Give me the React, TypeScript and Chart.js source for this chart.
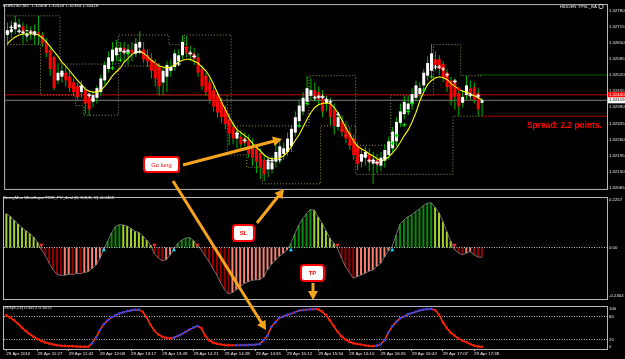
import React, { useEffect, useRef } from "react";
import { Chart, registerables } from "chart.js";

Chart.register(...registerables);

// ---------------- DATA ----------------
const timeLabels = [
  "29 Apr 2010", "29 Apr 11:27", "29 Apr 11:42", "29 Apr 12:08", "29 Apr 13:17", "29 Apr 13:49",
  "29 Apr 14:21", "29 Apr 14:28", "29 Apr 14:55", "29 Apr 15:12", "29 Apr 15:54", "29 Apr 16:10",
  "29 Apr 16:26", "29 Apr 16:42", "29 Apr 17:07", "29 Apr 17:38",
];
const labelBars = [0, 8, 16, 24, 32, 40, 48, 56, 64, 72, 80, 88, 96, 104, 112, 120];

const open = [
  1.32681, 1.32692, 1.32704, 1.32712, 1.32716, 1.32696, 1.32700, 1.32688, 1.32692, 1.32681,
  1.32653, 1.32622, 1.32583, 1.32498, 1.32513, 1.32529, 1.32513, 1.32490, 1.32474, 1.32451,
  1.32459, 1.32432, 1.32412, 1.32428, 1.32451, 1.32498, 1.32544, 1.32575, 1.32599, 1.32614,
  1.32630, 1.32607, 1.32622, 1.32607, 1.32630, 1.32622, 1.32599, 1.32583, 1.32560, 1.32552,
  1.32490, 1.32513, 1.32537, 1.32552, 1.32575, 1.32599, 1.32630, 1.32614, 1.32607, 1.32591,
  1.32544, 1.32513, 1.32490, 1.32459, 1.32436, 1.32412, 1.32381, 1.32342, 1.32311, 1.32264,
  1.32272, 1.32264, 1.32257, 1.32233, 1.32225, 1.32206, 1.32179, 1.32140, 1.32140, 1.32171,
  1.32187, 1.32202, 1.32210, 1.32233, 1.32288, 1.32334, 1.32373, 1.32412, 1.32436, 1.32459,
  1.32451, 1.32436, 1.32405, 1.32412, 1.32381, 1.32311, 1.32334, 1.32311, 1.32288, 1.32264,
  1.32233, 1.32171, 1.32187, 1.32202, 1.32163, 1.32179, 1.32155, 1.32175, 1.32198, 1.32225,
  1.32253, 1.32327, 1.32362, 1.32381, 1.32405, 1.32428, 1.32443, 1.32478, 1.32517, 1.32537,
  1.32583, 1.32583, 1.32564, 1.32529, 1.32498, 1.32490, 1.32447, 1.32408, 1.32439, 1.32467,
  1.32471, 1.32447, 1.32408,
];
const close = [
  1.32700, 1.32704, 1.32731, 1.32723, 1.32696, 1.32700, 1.32688, 1.32696, 1.32681, 1.32646,
  1.32607, 1.32544, 1.32467, 1.32529, 1.32537, 1.32498, 1.32467, 1.32451, 1.32432, 1.32474,
  1.32405, 1.32381, 1.32439, 1.32467, 1.32506, 1.32560, 1.32591, 1.32622, 1.32630, 1.32630,
  1.32607, 1.32622, 1.32607, 1.32646, 1.32653, 1.32583, 1.32575, 1.32537, 1.32506, 1.32474,
  1.32537, 1.32560, 1.32552, 1.32607, 1.32599, 1.32653, 1.32607, 1.32599, 1.32583, 1.32529,
  1.32474, 1.32451, 1.32420, 1.32393, 1.32369, 1.32350, 1.32323, 1.32284, 1.32264, 1.32288,
  1.32241, 1.32245, 1.32202, 1.32187, 1.32171, 1.32148, 1.32120, 1.32171, 1.32167, 1.32210,
  1.32233, 1.32225, 1.32264, 1.32303, 1.32350, 1.32397, 1.32428, 1.32467, 1.32459, 1.32432,
  1.32420, 1.32373, 1.32420, 1.32350, 1.32315, 1.32350, 1.32292, 1.32264, 1.32237, 1.32198,
  1.32163, 1.32202, 1.32210, 1.32171, 1.32179, 1.32159, 1.32187, 1.32218, 1.32253, 1.32292,
  1.32331, 1.32373, 1.32412, 1.32405, 1.32443, 1.32478, 1.32467, 1.32529, 1.32568, 1.32607,
  1.32560, 1.32544, 1.32509, 1.32471, 1.32420, 1.32432, 1.32393, 1.32432, 1.32478, 1.32439,
  1.32420, 1.32381, 1.32418,
];
const high = [
  1.32731, 1.32739, 1.32758, 1.32747, 1.32731, 1.32723, 1.32716, 1.32723, 1.32758, 1.32692,
  1.32669, 1.32634, 1.32595, 1.32568, 1.32560, 1.32552, 1.32537, 1.32506, 1.32490, 1.32498,
  1.32474, 1.32443, 1.32451, 1.32478, 1.32521, 1.32575, 1.32614, 1.32653, 1.32661, 1.32653,
  1.32653, 1.32646, 1.32653, 1.32669, 1.32696, 1.32653, 1.32622, 1.32607, 1.32583, 1.32568,
  1.32552, 1.32575, 1.32583, 1.32622, 1.32622, 1.32681, 1.32677, 1.32638, 1.32630, 1.32607,
  1.32560, 1.32529, 1.32506, 1.32474, 1.32451, 1.32428, 1.32397, 1.32366, 1.32334, 1.32311,
  1.32296, 1.32288, 1.32280, 1.32264, 1.32241, 1.32225, 1.32202, 1.32187, 1.32194, 1.32241,
  1.32264, 1.32249, 1.32288, 1.32319, 1.32373, 1.32420, 1.32451, 1.32517, 1.32506, 1.32490,
  1.32474, 1.32459, 1.32436, 1.32428, 1.32405, 1.32373, 1.32358, 1.32334, 1.32311, 1.32280,
  1.32249, 1.32225, 1.32233, 1.32225, 1.32210, 1.32202, 1.32210, 1.32241, 1.32272, 1.32311,
  1.32350, 1.32405, 1.32436, 1.32436, 1.32467, 1.32498, 1.32490, 1.32544, 1.32595, 1.32646,
  1.32614, 1.32599, 1.32575, 1.32544, 1.32513, 1.32506, 1.32467, 1.32459, 1.32517, 1.32498,
  1.32490, 1.32467, 1.32424,
];
const low = [
  1.32638, 1.32669, 1.32685, 1.32692, 1.32646, 1.32653, 1.32661, 1.32642, 1.32642, 1.32634,
  1.32591, 1.32517, 1.32459, 1.32482, 1.32490, 1.32474, 1.32451, 1.32436, 1.32420, 1.32428,
  1.32362, 1.32354, 1.32389, 1.32405, 1.32436, 1.32482, 1.32529, 1.32560, 1.32575, 1.32583,
  1.32568, 1.32560, 1.32575, 1.32591, 1.32607, 1.32568, 1.32552, 1.32506, 1.32474, 1.32439,
  1.32439, 1.32451, 1.32513, 1.32537, 1.32560, 1.32583, 1.32591, 1.32575, 1.32560, 1.32513,
  1.32459, 1.32436, 1.32405, 1.32373, 1.32350, 1.32327, 1.32303, 1.32237, 1.32241, 1.32225,
  1.32225, 1.32233, 1.32187, 1.32155, 1.32124, 1.32101, 1.32093, 1.32109, 1.32124, 1.32148,
  1.32163, 1.32179, 1.32194, 1.32210, 1.32272, 1.32319, 1.32358, 1.32397, 1.32420, 1.32412,
  1.32397, 1.32350, 1.32373, 1.32319, 1.32280, 1.32296, 1.32272, 1.32245, 1.32218, 1.32179,
  1.32136, 1.32148, 1.32155, 1.32132, 1.32082, 1.32124, 1.32132, 1.32148, 1.32179, 1.32210,
  1.32233, 1.32311, 1.32342, 1.32358, 1.32381, 1.32412, 1.32428, 1.32459, 1.32498, 1.32521,
  1.32537, 1.32521, 1.32490, 1.32451, 1.32397, 1.32381, 1.32354, 1.32389, 1.32420, 1.32420,
  1.32405, 1.32354, 1.32354,
];
const maLine = [
  1.32646, 1.32661, 1.32673, 1.32681, 1.32685, 1.32685, 1.32685, 1.32685, 1.32681, 1.32669,
  1.32653, 1.32634, 1.32614, 1.32595, 1.32572, 1.32556, 1.32537, 1.32517, 1.32498, 1.32482,
  1.32463, 1.32455, 1.32451, 1.32451, 1.32459, 1.32474, 1.32494, 1.32517, 1.32533, 1.32548,
  1.32572, 1.32587, 1.32603, 1.32611, 1.32614, 1.32607, 1.32595, 1.32579, 1.32568, 1.32556,
  1.32552, 1.32548, 1.32552, 1.32560, 1.32572, 1.32579, 1.32583, 1.32583, 1.32575, 1.32568,
  1.32552, 1.32537, 1.32513, 1.32482, 1.32447, 1.32412, 1.32381, 1.32350, 1.32323, 1.32299,
  1.32288, 1.32276, 1.32264, 1.32245, 1.32229, 1.32214, 1.32198, 1.32187, 1.32183, 1.32183,
  1.32187, 1.32194, 1.32210, 1.32233, 1.32257, 1.32280, 1.32311, 1.32342, 1.32369, 1.32389,
  1.32401, 1.32405, 1.32408, 1.32405, 1.32389, 1.32366, 1.32338, 1.32307, 1.32280, 1.32253,
  1.32233, 1.32222, 1.32214, 1.32202, 1.32194, 1.32183, 1.32175, 1.32179, 1.32190, 1.32206,
  1.32225, 1.32249, 1.32276, 1.32299, 1.32331, 1.32369, 1.32416, 1.32451, 1.32482, 1.32498,
  1.32509, 1.32513, 1.32509, 1.32502, 1.32486, 1.32474, 1.32463, 1.32455, 1.32451, 1.32443,
  1.32436, 1.32428, 1.32420,
];
const channelUpper = [
  1.32758, 1.32758, 1.32758, 1.32758, 1.32758, 1.32758, 1.32758, 1.32758, 1.32758, 1.32758, 1.32758, 1.32758, 1.32758, 1.32758,
  1.32564, 1.32564, 1.32564, 1.32564, 1.32564, 1.32564, 1.32564, 1.32564, 1.32564, 1.32564, 1.32564, 1.32564, 1.32564, 1.32564, 1.32564,
  1.32681, 1.32681, 1.32681, 1.32681, 1.32681, 1.32681, 1.32681, 1.32681, 1.32681, 1.32681, 1.32681, 1.32681, 1.32681,
  1.32642, 1.32642, 1.32642, 1.32642,
  1.32681, 1.32681, 1.32681, 1.32681, 1.32681, 1.32681, 1.32681, 1.32681, 1.32681, 1.32681, 1.32681, 1.32681,
  1.32315, 1.32315, 1.32315, 1.32315, 1.32315, 1.32315, 1.32315, 1.32315, 1.32315, 1.32315,
  1.32315, 1.32315, 1.32315, 1.32315, 1.32315, 1.32315, 1.32315, 1.32315, 1.32315, 1.32315,
  1.32517, 1.32517, 1.32517, 1.32517, 1.32517, 1.32517, 1.32517, 1.32517, 1.32517, 1.32517, 1.32517, 1.32517,
  1.32237, 1.32237, 1.32237, 1.32237, 1.32237, 1.32237, 1.32237, 1.32237, 1.32237,
  1.32439, 1.32439, 1.32439, 1.32439, 1.32439, 1.32439, 1.32439, 1.32439, 1.32439, 1.32439, 1.32439,
  1.32642, 1.32642, 1.32642, 1.32642, 1.32642, 1.32642, 1.32642,
  1.32517, 1.32517, 1.32517, 1.32517, 1.32517, 1.32517,
];
const channelLower = [
  1.32642, 1.32642, 1.32642, 1.32642, 1.32642, 1.32642, 1.32642, 1.32642, 1.32642,
  1.32439, 1.32439, 1.32439, 1.32439, 1.32439, 1.32439, 1.32439, 1.32439, 1.32439,
  1.32397, 1.32397,
  1.32358, 1.32358, 1.32358, 1.32358, 1.32358, 1.32358, 1.32358, 1.32358, 1.32358,
  1.32556, 1.32556, 1.32556, 1.32556, 1.32556, 1.32556, 1.32556, 1.32556, 1.32556, 1.32556,
  1.32439, 1.32439, 1.32439, 1.32439, 1.32439, 1.32439, 1.32439, 1.32439, 1.32439,
  1.32439, 1.32439, 1.32439, 1.32439, 1.32439, 1.32439, 1.32439, 1.32439, 1.32439,
  1.32198, 1.32198, 1.32198, 1.32198, 1.32198,
  1.32148, 1.32148, 1.32148, 1.32148,
  1.32082, 1.32082, 1.32082, 1.32082, 1.32082, 1.32082, 1.32082, 1.32082, 1.32082, 1.32082, 1.32082, 1.32082, 1.32082, 1.32082, 1.32082,
  1.32315, 1.32315, 1.32315, 1.32315, 1.32315, 1.32315, 1.32315, 1.32315, 1.32315,
  1.32120, 1.32120, 1.32120, 1.32120, 1.32120, 1.32120, 1.32120, 1.32120, 1.32120, 1.32120,
  1.32120, 1.32120, 1.32120, 1.32120, 1.32120, 1.32120, 1.32120, 1.32120, 1.32120, 1.32120,
  1.32120, 1.32120, 1.32120, 1.32120, 1.32120,
  1.32354, 1.32354, 1.32354, 1.32354, 1.32354, 1.32354, 1.32354, 1.32354,
];
const whiteCrossBars = [0, 1, 3, 4, 5, 6, 7, 14, 19, 21, 22, 30, 33, 34, 42, 44, 47, 48, 59, 61, 67, 68, 70, 79, 80, 81, 82, 83, 85, 91, 92, 93, 94, 95, 96, 97, 110, 111, 112, 113, 115, 119, 121];
const whiteCrossPrices = [
  1.32692, 1.32712, 1.32696, 1.32692, 1.32681, 1.32692, 1.32685, 1.32525, 1.32474, 1.32439,
  1.32420, 1.32614, 1.32611, 1.32614, 1.32544, 1.32564, 1.32607, 1.32595, 1.32284, 1.32257,
  1.32175, 1.32175, 1.32179, 1.32428, 1.32432, 1.32432, 1.32420, 1.32412, 1.32362, 1.32194,
  1.32194, 1.32175, 1.32175, 1.32167, 1.32175, 1.32187, 1.32552, 1.32552, 1.32544, 1.32521,
  1.32494, 1.32439, 1.32436,
];
const greenCrossBars = [27, 29, 31, 75, 77, 99, 100, 102, 103, 104, 107, 109];
const greenCrossPrices = [1.32548, 1.32579, 1.32607, 1.32315, 1.32405, 1.32245, 1.32276, 1.32319, 1.32373, 1.32405, 1.32459, 1.32513];
const redCrossBars = [12, 38, 39, 46, 51, 52, 53, 54, 56, 57, 86, 87, 88, 90, 116];
const redCrossPrices = [1.32587, 1.32564, 1.32544, 1.32630, 1.32513, 1.32467, 1.32439, 1.32397, 1.32358, 1.32323, 1.32296, 1.32276, 1.32241, 1.32218, 1.32463];

const askPrice = 1.3244;
const lastPrice = 1.32418;
const tpPrice = 1.3252;
const slPrice = 1.32354;
const tpStartBar = 121;
const slStartBar = 122;
const mainTicks = [1.3278, 1.32715, 1.3265, 1.32585, 1.3252, 1.32455, 1.3239, 1.32325, 1.3226, 1.32195, 1.3213, 1.32065];

const trixHist = [
  0.16, 0.148, 0.13, 0.112, 0.094, 0.08, 0.066, 0.05, 0.025, -0.01,
  -0.038, -0.074, -0.105, -0.127, -0.132, -0.131, -0.127, -0.128, -0.123, -0.124,
  -0.118, -0.114, -0.1, -0.083, -0.051, -0.011, 0.03, 0.07, 0.1, 0.108,
  0.107, 0.102, 0.09, 0.077, 0.071, 0.055, 0.035, 0.012, -0.03, -0.05,
  -0.063, -0.058, -0.036, -0.008, 0.02, 0.035, 0.045, 0.047, 0.033, 0.01,
  -0.01, -0.04, -0.066, -0.1, -0.13, -0.168, -0.2, -0.22, -0.213, -0.2,
  -0.185, -0.17, -0.162, -0.155, -0.153, -0.152, -0.14, -0.105, -0.08, -0.06,
  -0.042, -0.028, -0.012, 0.02, 0.065, 0.105, 0.135, 0.16, 0.18, 0.177,
  0.145, 0.115, 0.08, 0.045, 0.02, -0.005, -0.05, -0.09, -0.118, -0.145,
  -0.138, -0.13, -0.122, -0.112, -0.107, -0.09, -0.075, -0.045, -0.015, 0.005,
  0.06, 0.11, 0.13, 0.145, 0.155, 0.17, 0.183, 0.198, 0.21, 0.212,
  0.19, 0.165, 0.123, 0.075, 0.03, -0.01, -0.025, -0.034, -0.026, -0.02,
  -0.034, -0.045, -0.0465,
];
const trixUpArrowBars = [25, 43, 73, 99];
const trixDownArrowBars = [9, 38, 49, 85, 115];
const trixTicks = [0.2257, 0, -0.2304];

const dssValues = [
  83, 77, 70, 61, 51, 42, 34, 27, 21, 16,
  12, 9.5, 7, 5, 3.5, 2.8, 2.4, 2, 1.6, 1.2,
  1, 0.8, 10, 25, 45, 60, 70, 78, 83, 88,
  91, 94, 96, 97.5, 98, 92, 78, 58, 43, 33,
  27, 24, 23, 25, 29, 34, 40, 46, 51, 55,
  50, 30, 18, 12, 9, 7, 5.5, 4.8, 4.6, 4.7,
  4.9, 5, 5.5, 6, 6.5, 8, 18, 30, 53, 65,
  76, 80, 84, 87, 91, 95, 97, 98, 99, 99.5,
  99, 93, 84, 70, 55, 40, 28, 20, 14, 10,
  8, 6.5, 4.5, 3, 2.4, 3.5, 7, 18, 38, 54,
  66, 75, 80, 86, 89, 92, 96, 98, 99.5, 100,
  97, 85, 65, 50, 38, 30, 22, 17, 13, 8,
  4, 1.5, 0.8,
];
const dssLevels = [80, 20];
const dssTicks = [100, 80, 20, 0];

const mainTitle = "EURUSD,M2  1.32408 1.32424 1.32354 1.32418";
const eaTitle = "HIDDEN TPSL_EA";
const spreadText = "Spread: 2.2 points.";
const trixTitle = "SwingMan UltraSuperTRIX_PV_4col (6, E,E,E, C) -0.0465";
const dssTitle = "DSS(8,13) 0.3472 0.3472";

// ---------------- CONFIG ----------------
const X_MIN = -0.6;
const X_MAX = 154.1;
const FONT = "Liberation Sans";
const TXT = "#e8e8e8";

const pts = (arr: number[]) => arr.map((v, i) => ({ x: i, y: v }));
const hline = (from: number, v: number) => [{ x: from, y: v }, { x: X_MAX, y: v }];

const xHidden: any = { type: "linear", min: X_MIN, max: X_MAX, display: false, offset: false };

function rightAxis(min: number, max: number, ticks: number[], fmt: (v: number) => string): any {
  return {
    type: "linear",
    position: "right",
    min,
    max,
    grid: { display: false, drawTicks: false },
    border: { display: false },
    afterBuildTicks: (s: any) => {
      s.ticks = ticks.map((v) => ({ value: v }));
    },
    afterFit: (s: any) => {
      s.width = 18;
      s.paddingTop = 0;
      s.paddingBottom = 0;
    },
    ticks: {
      autoSkip: false,
      padding: 2,
      color: TXT,
      font: { family: FONT, size: 4.3 },
      callback: (v: any) => fmt(Number(v)),
    },
  };
}

const framePlugin = {
  id: "frame",
  afterDraw(chart: any) {
    const { ctx, chartArea: a } = chart;
    ctx.save();
    ctx.strokeStyle = "#b8b8b8";
    ctx.lineWidth = 1;
    ctx.strokeRect(a.left - 0.5, a.top - 0.5, a.right - a.left + 1, a.bottom - a.top + 1);
    ctx.restore();
  },
};

function titlePlugin(text: string, y: number) {
  return {
    id: "title_" + y,
    afterDraw(chart: any) {
      const { ctx } = chart;
      ctx.save();
      ctx.font = `4.3px "${FONT}"`;
      ctx.fillStyle = TXT;
      ctx.textBaseline = "middle";
      ctx.textAlign = "left";
      ctx.fillText(text, 3, y);
      ctx.restore();
    },
  };
}

const mainTextPlugin = {
  id: "mainText",
  afterDraw(chart: any) {
    const { ctx, chartArea: a, scales } = chart;
    const y = scales.y;
    ctx.save();
    ctx.textBaseline = "middle";
    ctx.font = `4.4px "${FONT}"`;
    ctx.fillStyle = TXT;
    ctx.textAlign = "left";
    ctx.fillText(mainTitle, 3, 6);
    ctx.textAlign = "right";
    ctx.fillText(eaTitle, 597, 6.5);
    ctx.strokeStyle = TXT;
    ctx.lineWidth = 0.8;
    ctx.beginPath();
    ctx.arc(601, 6.5, 2.2, 0, Math.PI * 2);
    ctx.stroke();

    ctx.font = `bold 8.4px "${FONT}"`;
    ctx.fillStyle = "#ff0000";
    ctx.textAlign = "left";
    ctx.fillText(spreadText, 527, 125.5);

    // price boxes on the axis
    const ya = y.getPixelForValue(askPrice);
    const yl = y.getPixelForValue(lastPrice);
    ctx.font = `4.3px "${FONT}"`;
    ctx.fillStyle = "#ff0000";
    ctx.fillRect(a.right + 1, ya - 3, 17, 6);
    ctx.fillStyle = "#ffffff";
    ctx.fillText(askPrice.toFixed(5), a.right + 2, ya);
    ctx.fillStyle = "#ffffff";
    ctx.fillRect(a.right + 1, yl - 3, 17, 6);
    ctx.fillStyle = "#000000";
    ctx.fillText(lastPrice.toFixed(5), a.right + 2, yl);
    ctx.restore();
  },
};

const baseOptions = (padding: any, scales: any): any => ({
  responsive: false,
  maintainAspectRatio: false,
  animation: false,
  events: [],
  layout: { padding },
  plugins: { legend: { display: false }, tooltip: { enabled: false } },
  scales,
});

function makeMain(canvas: HTMLCanvasElement) {
  const dotted = { type: "line", pointRadius: 0, borderWidth: 1, borderDash: [1, 2] };
  const crosses = (bars: number[], prices: number[], color: string, order: number) => ({
    type: "line",
    showLine: false,
    data: bars.map((b, k) => ({ x: b, y: prices[k] })),
    pointStyle: "cross",
    pointRadius: 2,
    pointBorderWidth: 1.1,
    pointBorderColor: color,
    borderColor: color,
    order,
  });
  return new Chart(canvas, {
    type: "bar",
    data: {
      datasets: [
        { ...dotted, data: pts(channelUpper), borderColor: "#a39455", stepped: "middle", order: 12 },
        { ...dotted, data: pts(channelLower), borderColor: "#a39455", stepped: "middle", order: 12 },
        { type: "line", data: hline(X_MIN, askPrice), borderColor: "#c00000", borderWidth: 1, pointRadius: 0, order: 11 },
        { type: "line", data: hline(X_MIN, lastPrice), borderColor: "#7c7c7c", borderWidth: 1, pointRadius: 0, order: 11 },
        { ...dotted, borderDash: [1, 1], data: hline(tpStartBar, tpPrice), borderColor: "#00a000", order: 10 },
        { ...dotted, borderDash: [1, 1], data: hline(slStartBar, slPrice), borderColor: "#e00000", order: 10 },
        {
          type: "bar",
          data: low.map((l, i) => ({ x: i, y: [l, high[i]] })),
          backgroundColor: "#00b400",
          barThickness: 1,
          grouped: false,
          inflateAmount: 0,
          order: 8,
        },
        {
          type: "bar",
          data: open.map((o, i) => ({ x: i, y: [o, close[i]] })),
          backgroundColor: open.map((o, i) => (close[i] >= o ? "#ffffff" : "#ff0000")),
          barThickness: 3,
          grouped: false,
          inflateAmount: 0,
          order: 7,
        },
        { type: "line", data: pts(maLine), borderColor: "#ffff00", borderWidth: 1.1, pointRadius: 0, order: 5 },
        crosses(whiteCrossBars, whiteCrossPrices, "#ffffff", 4),
        crosses(greenCrossBars, greenCrossPrices, "#00e000", 4),
        crosses(redCrossBars, redCrossPrices, "#ff1010", 4),
      ],
    } as any,
    options: baseOptions(
      { left: 2, top: 2, right: 0, bottom: 2 },
      { x: xHidden, y: rightAxis(1.320614, 1.328012, mainTicks, (v) => v.toFixed(5)) }
    ),
    plugins: [framePlugin, mainTextPlugin],
  } as any);
}

function makeTrix(canvas: HTMLCanvasElement) {
  const colors = trixHist.map((v, i) => {
    const prev = i > 0 ? trixHist[i - 1] : Infinity;
    if (v >= 0) return v > prev ? "#078c07" : "#a3d22c";
    return v < prev ? "#960000" : "#f4826f";
  });
  return new Chart(canvas, {
    type: "bar",
    data: {
      datasets: [
        {
          type: "line",
          data: hline(X_MIN, 0),
          borderColor: "#c8c8c8",
          borderWidth: 1,
          borderDash: [1, 1.5],
          pointRadius: 0,
          order: 3,
        },
        {
          type: "line",
          data: pts(trixHist),
          borderColor: "#8a8a8a",
          borderWidth: 0.8,
          pointRadius: 0,
          order: 4,
        },
        {
          type: "bar",
          data: pts(trixHist),
          backgroundColor: colors,
          barThickness: 2,
          grouped: false,
          inflateAmount: 0,
          order: 6,
        },
        {
          type: "line",
          showLine: false,
          data: trixUpArrowBars.map((b) => ({ x: b, y: -0.012 })),
          pointStyle: "triangle",
          pointRadius: 2.4,
          pointBackgroundColor: "#19d3ff",
          pointBorderWidth: 0,
          order: 1,
        },
        {
          type: "line",
          showLine: false,
          data: trixDownArrowBars.map((b) => ({ x: b, y: 0.012 })),
          pointStyle: "triangle",
          rotation: 180,
          pointRotation: 180,
          pointRadius: 2.4,
          pointBackgroundColor: "#ff2a2a",
          pointBorderWidth: 0,
          order: 1,
        },
      ],
    } as any,
    options: baseOptions(
      { left: 2, top: 1, right: 0, bottom: 1 },
      {
        x: xHidden,
        y: rightAxis(-0.2438, 0.2346, trixTicks, (v) => (v === 0 ? "0.00" : v.toFixed(4))),
      }
    ),
    plugins: [framePlugin, titlePlugin(trixTitle, 3.8)],
  } as any);
}

function makeDss(canvas: HTMLCanvasElement) {
  const colors = dssValues.map((v, i) => (i > 0 && v > dssValues[i - 1] ? "#2446ff" : "#ff1400"));
  return new Chart(canvas, {
    type: "line",
    data: {
      datasets: [
        ...dssLevels.map((lv) => ({
          data: hline(X_MIN, lv),
          borderColor: "#c8c8c8",
          borderWidth: 1,
          borderDash: [1, 1.5],
          pointRadius: 0,
          order: 5,
        })),
        {
          data: pts(dssValues),
          borderColor: "#ff3a10",
          borderWidth: 1.5,
          pointRadius: 1.4,
          pointBackgroundColor: colors,
          pointBorderWidth: 0,
          order: 1,
        },
      ],
    } as any,
    options: baseOptions(
      { left: 2, top: 1, right: 0, bottom: 0 },
      {
        x: {
          type: "linear",
          min: X_MIN,
          max: X_MAX,
          offset: false,
          grid: { display: true, drawOnChartArea: false, drawTicks: true, tickLength: 2, color: "#b8b8b8" },
          border: { display: false },
          afterBuildTicks: (s: any) => {
            s.ticks = labelBars.map((v) => ({ value: v }));
          },
          afterFit: (s: any) => {
            s.height = 10;
            s.paddingLeft = 0;
            s.paddingRight = 0;
          },
          ticks: {
            autoSkip: false,
            maxRotation: 0,
            minRotation: 0,
            align: "start",
            padding: 0.5,
            color: TXT,
            font: { family: FONT, size: 4.4 },
            callback: (v: any) => timeLabels[labelBars.indexOf(Number(v))] ?? "",
          },
        },
        y: rightAxis(-5, 105, dssTicks, (v) => String(v)),
      }
    ),
    plugins: [framePlugin, titlePlugin(dssTitle, 5)],
  } as any);
}

// ---------------- OVERLAY ----------------
const ORANGE = "#f7a41d";

function Arrow({ x1, y1, x2, y2 }: { x1: number; y1: number; x2: number; y2: number }) {
  const dx = x2 - x1;
  const dy = y2 - y1;
  const len = Math.hypot(dx, dy);
  const ux = dx / len;
  const uy = dy / len;
  const hl = 9;
  const hw = 5;
  const bx = x2 - ux * hl;
  const by = y2 - uy * hl;
  const px = -uy;
  const py = ux;
  return (
    <g>
      <line x1={x1} y1={y1} x2={bx + ux} y2={by + uy} stroke={ORANGE} strokeWidth={3} />
      <polygon
        points={`${x2},${y2} ${bx + px * hw},${by + py * hw} ${bx - px * hw},${by - py * hw}`}
        fill={ORANGE}
      />
    </g>
  );
}

function Tag({ x, y, w, h, text, bold }: { x: number; y: number; w: number; h: number; text: string; bold?: boolean }) {
  return (
    <g>
      <rect x={x} y={y} width={w} height={h} rx={3} fill="#ffffff" stroke="#ff0000" strokeWidth={2} />
      <text
        x={x + w / 2}
        y={y + h / 2 + 0.3}
        fill="#ff0000"
        fontSize={bold ? 6 : 5.8}
        fontWeight={bold ? "bold" : "normal"}
        fontFamily={FONT}
        textAnchor="middle"
        dominantBaseline="central"
      >
        {text}
      </text>
    </g>
  );
}

export default function App() {
  const mainRef = useRef<HTMLCanvasElement>(null);
  const trixRef = useRef<HTMLCanvasElement>(null);
  const dssRef = useRef<HTMLCanvasElement>(null);

  useEffect(() => {
    const charts = [makeMain(mainRef.current!), makeTrix(trixRef.current!), makeDss(dssRef.current!)];
    return () => charts.forEach((c) => c.destroy());
  }, []);

  return (
    <div style={{ position: "relative", width: 625, height: 359, background: "#000", overflow: "hidden" }}>
      <style>{"body{margin:0;background:#000}"}</style>
      <canvas ref={mainRef} width={625} height={194} style={{ position: "absolute", left: 0, top: 0 }} />
      <canvas ref={trixRef} width={625} height={109} style={{ position: "absolute", left: 0, top: 194 }} />
      <canvas ref={dssRef} width={625} height={56} style={{ position: "absolute", left: 0, top: 303 }} />
      <svg width={625} height={359} style={{ position: "absolute", left: 0, top: 0, pointerEvents: "none" }}>
        <Arrow x1={183} y1={165} x2={282} y2={139} />
        <Arrow x1={173} y1={181} x2={266} y2={330} />
        <Arrow x1={257} y1={223} x2={284} y2={189} />
        <Arrow x1={313} y1={283} x2={313} y2={300} />
        <Tag x={144} y={157} w={35} h={15} text="Go long" />
        <Tag x={233} y={225} w={21} h={16} text="SL" bold />
        <Tag x={301} y={265} w={23} h={16} text="TP" bold />
      </svg>
    </div>
  );
}
